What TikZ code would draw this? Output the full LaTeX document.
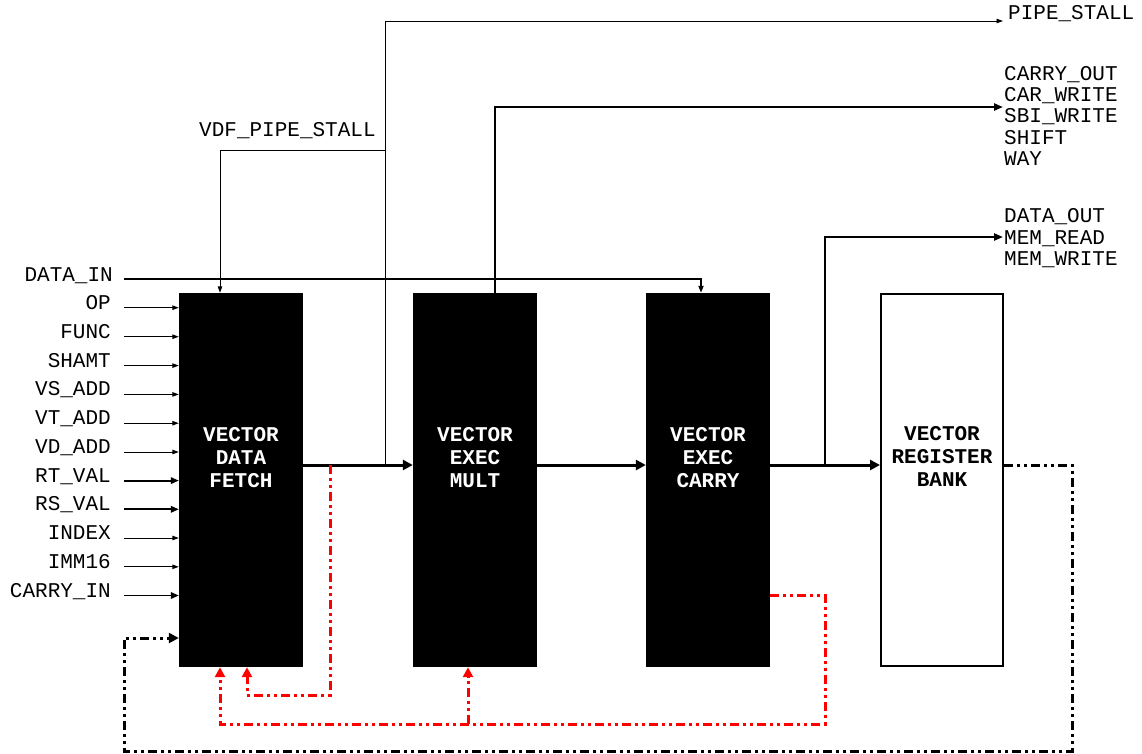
\documentclass[tikz,border=0pt]{standalone}
\usepackage{fontspec}
\newfontfamily\cour{Liberation Mono}
\usetikzlibrary{arrows.meta}
\begin{document}
\begin{tikzpicture}[x=1pt,y=-1pt,
  blk/.style={fill=black, minimum width=124pt, minimum height=374pt, inner sep=0pt},
  wbox/.style={draw=black, line width=2pt, fill=white, minimum width=122pt, minimum height=372pt, inner sep=0pt},
  btxt/.style={font=\cour\bfseries\fontsize{21}{23}\selectfont, align=center, inner sep=0pt},
  lbl/.style={font=\cour\fontsize{21}{21.3}\selectfont, inner sep=0pt},
  thinarr/.style={line width=0.9pt, -{Triangle[length=6.5pt,width=4.5pt]}},
  thkarr/.style={line width=1.8pt, -{Triangle[length=8pt,width=6.5pt]}},
  medarr/.style={line width=2.2pt, -{Triangle[length=9pt,width=7pt]}},
  mainarr/.style={line width=3pt, -{Triangle[length=10pt,width=10pt]}},
  ddot/.style={line width=3pt, dash pattern=on 9pt off 4pt on 3pt off 4pt on 3pt off 4pt},
  fb/.style={ddot, -{Triangle[length=10pt,width=10pt]}}
]
\useasboundingbox (0,0) rectangle (1142,753);

% blocks
\node[blk] (vdf) at (241,480) {};
\node[blk] (mult) at (475,480) {};
\node[blk] (car) at (708,480) {};
\node[wbox] (vrb) at (942,480) {};
\node[btxt, text=white] (vdft) at (241,458) {VECTOR\\DATA\\FETCH};
\node[btxt, text=white] (multt) at (475,458) {VECTOR\\EXEC\\MULT};
\node[btxt, text=white] (cart) at (708,458) {VECTOR\\EXEC\\CARRY};
\node[btxt] (vrbt) at (942,456) {VECTOR\\REGISTER\\BANK};

% inputs
\foreach \t/\y/\s [count=\i] in {OP/307.7/thinarr, FUNC/336.7/thinarr, SHAMT/365.6/thinarr,
  VS\_ADD/394.4/thinarr, VT\_ADD/423.2/thinarr, VD\_ADD/452/thinarr, RT\_VAL/480.6/thkarr,
  RS\_VAL/509.3/thkarr, INDEX/538/thinarr, IMM16/566.8/thinarr, CARRY\_IN/595.5/thkarr} {
  \node[lbl, anchor=base east] (in\i) at (111,\y+1.5) {\t};
  \coordinate (s\i) at (124,\y);
  \draw[\s] (s\i) -- (s\i -| vdf.west);
}

% DATA_IN
\node[lbl, anchor=base east] (datain) at (113,281) {DATA\_IN};
\coordinate (di0) at (124,279);
\coordinate (di1) at (701,279);
\draw[line width=1.8pt, -{Triangle[length=7pt,width=5pt]}] (di0) -- (di1) -- (di1 |- car.north);

% main flow
\coordinate (ymain) at (0,465);
\draw[mainarr] (vdf.east |- ymain) -- (mult.west |- ymain);
\draw[mainarr] (mult.east |- ymain) -- (car.west |- ymain);
\draw[mainarr] (car.east |- ymain) -- (vrb.west |- ymain);

% pipe stall
\coordinate (ps0) at (385,465);
\coordinate (ps1) at (385,21);
\coordinate (ps2) at (1003,21);
\node[lbl, anchor=base west] (pstall) at (1008,19.5) {PIPE\_STALL};
\draw[thinarr] (ps0) -- (ps1) -- (ps2);
\coordinate (vps) at (385,150);
\coordinate (vx) at (220,150);
\node[lbl, anchor=base west] (vdfps) at (199,136.7) {VDF\_PIPE\_STALL};
\draw[thinarr] (vps) -- (vx) -- (vx |- vdf.north);

% mult outputs
\coordinate (mt0) at (495,107);
\coordinate (mt1) at (1003,107);
\draw[medarr] (mult.north -| mt0) -- (mt0) -- (mt1);
\node[lbl, anchor=base west, align=left] (multout) at (1004,165.3) {CARRY\_OUT\\CAR\_WRITE\\SBI\_WRITE\\SHIFT\\WAY};

% carry outputs
\coordinate (co0) at (825,465);
\coordinate (co1) at (825,237);
\coordinate (co2) at (1003,237);
\draw[medarr] (co0) -- (co1) -- (co2);
\node[lbl, anchor=base west, align=left] (carout) at (1004,265.3) {DATA\_OUT\\MEM\_READ\\MEM\_WRITE};

% red feedback 1
\coordinate (r0) at (330,465);
\coordinate (r1) at (330,695);
\coordinate (r2) at (247,695);
\draw[fb, red] (r0) -- (r1) -- (r2) -- (r2 |- vdf.south);

% red feedback 2
\coordinate (q0) at (770,595);
\coordinate (q1) at (825,595);
\coordinate (q2) at (825,724);
\coordinate (q3) at (220,724);
\coordinate (q4) at (468,724);
\draw[fb, red] (q0) -- (q1) -- (q2) -- (q3) -- (q3 |- vdf.south);
\draw[fb, red] (q4) -- (q4 |- mult.south);

% black feedback
\coordinate (b0) at (1004,465);
\coordinate (b1) at (1072,465);
\coordinate (b2) at (1072,751);
\coordinate (b3) at (124,751);
\coordinate (b4) at (124,638);
\draw[fb, black] (b0) -- (b1) -- (b2) -- (b3) -- (b4) -- (b4 -| vdf.west);
\end{tikzpicture}
\end{document}
